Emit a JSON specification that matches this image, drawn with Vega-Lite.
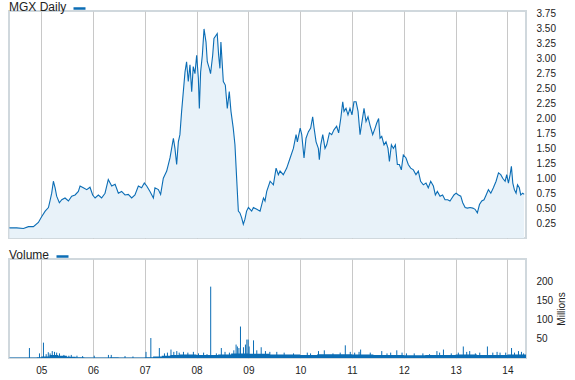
{
  "$schema": "https://vega.github.io/schema/vega-lite/v6.json",
  "padding": {"left": 6, "top": 0, "right": 0, "bottom": 0},
  "background": "white",
  "spacing": 21,
  "bounds": "flush",
  "config": {
    "font": "Liberation Sans",
    "view": {"stroke": "#d0d8dd", "strokeWidth": 2},
    "axis": {"labelFont": "Liberation Sans", "labelFontSize": 10, "labelColor": "#222222", "titleFont": "Liberation Sans"},
    "legend": {"titleFont": "Liberation Sans", "labelFont": "Liberation Sans"}
  },
  "resolve": {"scale": {"color": "independent"}, "legend": {"color": "independent"}},
  "datasets": {
    "price": [
      {"d": "2004-05-22", "p": 0.17}, {"d": "2004-07-12", "p": 0.17}, {"d": "2004-08-29", "p": 0.16},
      {"d": "2004-10-03", "p": 0.19}, {"d": "2004-11-07", "p": 0.19}, {"d": "2004-12-12", "p": 0.26},
      {"d": "2005-01-05", "p": 0.36}, {"d": "2005-01-29", "p": 0.45}, {"d": "2005-02-21", "p": 0.51},
      {"d": "2005-03-04", "p": 0.62}, {"d": "2005-03-16", "p": 0.75}, {"d": "2005-03-28", "p": 0.95},
      {"d": "2005-04-09", "p": 0.84}, {"d": "2005-04-20", "p": 0.70}, {"d": "2005-05-09", "p": 0.59},
      {"d": "2005-05-26", "p": 0.64}, {"d": "2005-06-18", "p": 0.67}, {"d": "2005-07-12", "p": 0.62},
      {"d": "2005-08-04", "p": 0.70}, {"d": "2005-08-28", "p": 0.72}, {"d": "2005-09-20", "p": 0.78},
      {"d": "2005-10-02", "p": 0.87}, {"d": "2005-10-25", "p": 0.84}, {"d": "2005-11-18", "p": 0.81},
      {"d": "2005-12-11", "p": 0.85}, {"d": "2005-12-30", "p": 0.72}, {"d": "2006-01-16", "p": 0.67},
      {"d": "2006-02-08", "p": 0.72}, {"d": "2006-03-03", "p": 0.67}, {"d": "2006-03-27", "p": 0.75},
      {"d": "2006-04-19", "p": 0.98}, {"d": "2006-05-13", "p": 0.87}, {"d": "2006-06-06", "p": 0.90},
      {"d": "2006-06-29", "p": 0.75}, {"d": "2006-07-22", "p": 0.78}, {"d": "2006-08-15", "p": 0.72},
      {"d": "2006-09-07", "p": 0.73}, {"d": "2006-10-01", "p": 0.67}, {"d": "2006-10-24", "p": 0.72},
      {"d": "2006-11-17", "p": 0.87}, {"d": "2006-12-10", "p": 0.84}, {"d": "2006-12-29", "p": 0.92},
      {"d": "2007-01-15", "p": 0.87}, {"d": "2007-02-07", "p": 0.78}, {"d": "2007-03-03", "p": 0.67},
      {"d": "2007-03-14", "p": 0.84}, {"d": "2007-04-07", "p": 0.81}, {"d": "2007-04-23", "p": 0.73},
      {"d": "2007-05-12", "p": 1.00}, {"d": "2007-06-05", "p": 1.12}, {"d": "2007-06-28", "p": 1.34},
      {"d": "2007-07-22", "p": 1.67}, {"d": "2007-08-02", "p": 1.50}, {"d": "2007-08-14", "p": 1.23},
      {"d": "2007-08-26", "p": 1.61}, {"d": "2007-09-06", "p": 1.73}, {"d": "2007-09-18", "p": 2.12},
      {"d": "2007-09-30", "p": 2.45}, {"d": "2007-10-12", "p": 2.78}, {"d": "2007-10-23", "p": 2.95},
      {"d": "2007-11-04", "p": 2.62}, {"d": "2007-11-16", "p": 2.90}, {"d": "2007-11-28", "p": 2.45},
      {"d": "2007-12-09", "p": 2.87}, {"d": "2007-12-21", "p": 2.75}, {"d": "2008-01-02", "p": 3.06},
      {"d": "2008-01-14", "p": 2.67}, {"d": "2008-01-21", "p": 2.17}, {"d": "2008-01-30", "p": 2.78},
      {"d": "2008-02-11", "p": 3.06}, {"d": "2008-02-23", "p": 3.50}, {"d": "2008-03-08", "p": 3.28},
      {"d": "2008-03-17", "p": 2.95}, {"d": "2008-03-31", "p": 2.84}, {"d": "2008-04-09", "p": 2.75},
      {"d": "2008-04-24", "p": 3.06}, {"d": "2008-05-03", "p": 3.34}, {"d": "2008-05-17", "p": 3.39},
      {"d": "2008-05-26", "p": 3.42}, {"d": "2008-06-05", "p": 3.06}, {"d": "2008-06-14", "p": 2.84},
      {"d": "2008-06-21", "p": 3.28}, {"d": "2008-07-08", "p": 2.62}, {"d": "2008-07-22", "p": 2.56},
      {"d": "2008-08-05", "p": 2.17}, {"d": "2008-08-19", "p": 2.45}, {"d": "2008-08-31", "p": 2.12},
      {"d": "2008-09-16", "p": 1.84}, {"d": "2008-09-28", "p": 1.56}, {"d": "2008-10-10", "p": 1.00},
      {"d": "2008-10-22", "p": 0.45}, {"d": "2008-11-02", "p": 0.42}, {"d": "2008-11-14", "p": 0.34},
      {"d": "2008-11-26", "p": 0.23}, {"d": "2008-12-07", "p": 0.31}, {"d": "2008-12-19", "p": 0.45},
      {"d": "2009-01-01", "p": 0.51}, {"d": "2009-01-13", "p": 0.48}, {"d": "2009-01-24", "p": 0.45},
      {"d": "2009-02-05", "p": 0.51}, {"d": "2009-03-01", "p": 0.48}, {"d": "2009-03-24", "p": 0.45},
      {"d": "2009-04-17", "p": 0.67}, {"d": "2009-04-28", "p": 0.62}, {"d": "2009-05-10", "p": 0.78},
      {"d": "2009-06-03", "p": 0.95}, {"d": "2009-06-26", "p": 0.89}, {"d": "2009-07-15", "p": 1.17},
      {"d": "2009-07-31", "p": 1.06}, {"d": "2009-08-12", "p": 1.12}, {"d": "2009-09-04", "p": 1.06},
      {"d": "2009-09-28", "p": 1.17}, {"d": "2009-10-22", "p": 1.34}, {"d": "2009-11-14", "p": 1.50},
      {"d": "2009-12-03", "p": 1.73}, {"d": "2009-12-12", "p": 1.61}, {"d": "2010-01-01", "p": 1.84},
      {"d": "2010-01-12", "p": 1.73}, {"d": "2010-01-28", "p": 1.34}, {"d": "2010-02-11", "p": 1.67},
      {"d": "2010-02-28", "p": 1.78}, {"d": "2010-03-16", "p": 1.84}, {"d": "2010-03-30", "p": 2.03},
      {"d": "2010-04-09", "p": 1.84}, {"d": "2010-04-23", "p": 1.61}, {"d": "2010-05-09", "p": 1.50},
      {"d": "2010-05-16", "p": 1.31}, {"d": "2010-05-26", "p": 1.56}, {"d": "2010-06-09", "p": 1.73},
      {"d": "2010-06-25", "p": 1.50}, {"d": "2010-07-07", "p": 1.56}, {"d": "2010-07-26", "p": 1.76},
      {"d": "2010-08-11", "p": 1.73}, {"d": "2010-08-27", "p": 1.81}, {"d": "2010-09-15", "p": 1.87},
      {"d": "2010-09-29", "p": 1.76}, {"d": "2010-10-14", "p": 2.00}, {"d": "2010-10-28", "p": 2.28},
      {"d": "2010-11-06", "p": 2.12}, {"d": "2010-11-20", "p": 2.17}, {"d": "2010-12-04", "p": 2.06},
      {"d": "2010-12-18", "p": 2.17}, {"d": "2011-01-01", "p": 2.06}, {"d": "2011-01-15", "p": 2.28},
      {"d": "2011-01-30", "p": 2.28}, {"d": "2011-02-13", "p": 2.12}, {"d": "2011-02-27", "p": 1.73},
      {"d": "2011-03-13", "p": 1.95}, {"d": "2011-03-27", "p": 2.17}, {"d": "2011-04-10", "p": 1.95},
      {"d": "2011-04-24", "p": 2.03}, {"d": "2011-05-08", "p": 1.89}, {"d": "2011-05-27", "p": 1.73},
      {"d": "2011-06-13", "p": 1.84}, {"d": "2011-06-24", "p": 1.92}, {"d": "2011-07-08", "p": 2.00},
      {"d": "2011-07-18", "p": 1.67}, {"d": "2011-07-30", "p": 1.70}, {"d": "2011-08-15", "p": 1.56},
      {"d": "2011-08-29", "p": 1.61}, {"d": "2011-09-12", "p": 1.50}, {"d": "2011-09-22", "p": 1.28},
      {"d": "2011-10-06", "p": 1.56}, {"d": "2011-10-20", "p": 1.50}, {"d": "2011-11-03", "p": 1.56},
      {"d": "2011-11-17", "p": 1.23}, {"d": "2011-12-01", "p": 1.23}, {"d": "2011-12-15", "p": 1.14},
      {"d": "2011-12-29", "p": 1.39}, {"d": "2012-01-17", "p": 1.34}, {"d": "2012-02-02", "p": 1.23},
      {"d": "2012-02-19", "p": 1.17}, {"d": "2012-03-09", "p": 1.14}, {"d": "2012-03-27", "p": 1.06},
      {"d": "2012-04-13", "p": 1.12}, {"d": "2012-04-29", "p": 0.95}, {"d": "2012-05-18", "p": 0.89},
      {"d": "2012-06-06", "p": 0.92}, {"d": "2012-06-22", "p": 0.84}, {"d": "2012-07-09", "p": 0.95},
      {"d": "2012-07-28", "p": 0.87}, {"d": "2012-08-11", "p": 0.72}, {"d": "2012-08-25", "p": 0.78},
      {"d": "2012-09-13", "p": 0.70}, {"d": "2012-10-01", "p": 0.72}, {"d": "2012-10-18", "p": 0.64},
      {"d": "2012-11-06", "p": 0.64}, {"d": "2012-11-22", "p": 0.62}, {"d": "2012-12-06", "p": 0.67},
      {"d": "2012-12-20", "p": 0.72}, {"d": "2013-01-04", "p": 0.75}, {"d": "2013-01-21", "p": 0.72},
      {"d": "2013-02-06", "p": 0.70}, {"d": "2013-02-20", "p": 0.59}, {"d": "2013-03-09", "p": 0.51},
      {"d": "2013-03-25", "p": 0.50}, {"d": "2013-04-13", "p": 0.51}, {"d": "2013-05-02", "p": 0.50},
      {"d": "2013-05-18", "p": 0.48}, {"d": "2013-06-03", "p": 0.42}, {"d": "2013-06-18", "p": 0.56},
      {"d": "2013-07-04", "p": 0.62}, {"d": "2013-07-20", "p": 0.64}, {"d": "2013-08-04", "p": 0.72},
      {"d": "2013-08-20", "p": 0.81}, {"d": "2013-09-06", "p": 0.75}, {"d": "2013-09-24", "p": 0.84},
      {"d": "2013-10-13", "p": 0.95}, {"d": "2013-10-30", "p": 1.09}, {"d": "2013-11-15", "p": 1.06},
      {"d": "2013-11-29", "p": 1.00}, {"d": "2013-12-16", "p": 0.95}, {"d": "2013-12-27", "p": 1.06},
      {"d": "2014-01-08", "p": 0.92}, {"d": "2014-01-20", "p": 1.06}, {"d": "2014-01-29", "p": 1.20},
      {"d": "2014-02-08", "p": 0.92}, {"d": "2014-02-19", "p": 0.81}, {"d": "2014-03-03", "p": 0.75},
      {"d": "2014-03-13", "p": 0.89}, {"d": "2014-03-26", "p": 0.84}, {"d": "2014-04-05", "p": 0.72},
      {"d": "2014-04-19", "p": 0.75}, {"d": "2014-04-29", "p": 0.73}
    ],
    "volBase": [
      {"d": "2004-05-22", "v": 1}, {"d": "2004-12-01", "v": 2}, {"d": "2005-01-01", "v": 4},
      {"d": "2005-03-01", "v": 8}, {"d": "2005-05-01", "v": 6}, {"d": "2005-07-01", "v": 3},
      {"d": "2005-09-01", "v": 2}, {"d": "2005-11-01", "v": 1}, {"d": "2006-05-01", "v": 2},
      {"d": "2006-07-01", "v": 1}, {"d": "2007-01-01", "v": 2}, {"d": "2007-03-01", "v": 4},
      {"d": "2007-05-01", "v": 6}, {"d": "2007-07-01", "v": 8}, {"d": "2007-09-01", "v": 9},
      {"d": "2008-01-01", "v": 8}, {"d": "2008-06-01", "v": 9}, {"d": "2008-09-01", "v": 12},
      {"d": "2009-01-01", "v": 11}, {"d": "2009-06-01", "v": 9}, {"d": "2010-01-01", "v": 8},
      {"d": "2010-05-01", "v": 10}, {"d": "2011-01-01", "v": 9}, {"d": "2011-06-01", "v": 8},
      {"d": "2012-01-01", "v": 7}, {"d": "2012-06-01", "v": 8}, {"d": "2013-01-01", "v": 9},
      {"d": "2013-06-01", "v": 8}, {"d": "2014-01-01", "v": 9}, {"d": "2014-05-12", "v": 9}
    ],
    "volSpikes": [
      {"d": "2004-10-10", "v": 26}, {"d": "2004-12-20", "v": 12}, {"d": "2005-01-17", "v": 40},
      {"d": "2005-02-05", "v": 10}, {"d": "2005-02-20", "v": 15}, {"d": "2005-03-05", "v": 12},
      {"d": "2005-03-20", "v": 18}, {"d": "2005-04-05", "v": 16}, {"d": "2005-04-20", "v": 14},
      {"d": "2005-05-10", "v": 12}, {"d": "2005-06-10", "v": 8}, {"d": "2005-07-15", "v": 6},
      {"d": "2005-08-01", "v": 8}, {"d": "2005-09-10", "v": 6}, {"d": "2005-10-20", "v": 5},
      {"d": "2006-01-10", "v": 6}, {"d": "2006-04-20", "v": 8}, {"d": "2006-05-10", "v": 8},
      {"d": "2006-08-15", "v": 5}, {"d": "2006-10-10", "v": 4}, {"d": "2007-01-10", "v": 16},
      {"d": "2007-02-13", "v": 52}, {"d": "2007-04-14", "v": 26}, {"d": "2007-05-20", "v": 12},
      {"d": "2007-06-10", "v": 14}, {"d": "2007-07-05", "v": 22}, {"d": "2007-07-25", "v": 16},
      {"d": "2007-08-15", "v": 18}, {"d": "2007-09-01", "v": 14}, {"d": "2007-10-01", "v": 16},
      {"d": "2007-11-01", "v": 14}, {"d": "2007-12-10", "v": 16}, {"d": "2008-01-15", "v": 12},
      {"d": "2008-02-20", "v": 14}, {"d": "2008-03-15", "v": 10}, {"d": "2008-04-10", "v": 186},
      {"d": "2008-05-20", "v": 12}, {"d": "2008-06-24", "v": 26}, {"d": "2008-07-20", "v": 16},
      {"d": "2008-08-20", "v": 14}, {"d": "2008-09-20", "v": 20}, {"d": "2008-10-06", "v": 35},
      {"d": "2008-10-15", "v": 30}, {"d": "2008-10-26", "v": 26}, {"d": "2008-11-06", "v": 82},
      {"d": "2008-11-27", "v": 28}, {"d": "2008-12-11", "v": 35}, {"d": "2008-12-21", "v": 48},
      {"d": "2008-12-30", "v": 48}, {"d": "2009-01-06", "v": 30}, {"d": "2009-02-06", "v": 46},
      {"d": "2009-03-01", "v": 20}, {"d": "2009-04-01", "v": 28}, {"d": "2009-05-01", "v": 18},
      {"d": "2009-06-01", "v": 16}, {"d": "2009-07-20", "v": 16}, {"d": "2009-09-10", "v": 14},
      {"d": "2009-11-15", "v": 12}, {"d": "2010-02-20", "v": 14}, {"d": "2010-03-15", "v": 12},
      {"d": "2010-05-10", "v": 18}, {"d": "2010-06-20", "v": 20}, {"d": "2010-08-20", "v": 12},
      {"d": "2010-10-10", "v": 14}, {"d": "2010-11-15", "v": 33}, {"d": "2010-12-20", "v": 16},
      {"d": "2011-01-20", "v": 14}, {"d": "2011-02-20", "v": 16}, {"d": "2011-03-03", "v": 22},
      {"d": "2011-05-10", "v": 14}, {"d": "2011-07-30", "v": 18}, {"d": "2011-09-05", "v": 12},
      {"d": "2011-10-01", "v": 14}, {"d": "2011-11-13", "v": 20}, {"d": "2011-12-20", "v": 14},
      {"d": "2012-01-20", "v": 12}, {"d": "2012-03-15", "v": 12}, {"d": "2012-05-15", "v": 12},
      {"d": "2012-07-01", "v": 10}, {"d": "2012-08-22", "v": 18}, {"d": "2012-09-10", "v": 14},
      {"d": "2012-10-07", "v": 22}, {"d": "2012-12-01", "v": 12}, {"d": "2013-01-20", "v": 14},
      {"d": "2013-02-24", "v": 30}, {"d": "2013-03-20", "v": 16}, {"d": "2013-04-10", "v": 18},
      {"d": "2013-05-20", "v": 12}, {"d": "2013-06-20", "v": 14}, {"d": "2013-08-13", "v": 30},
      {"d": "2013-09-20", "v": 14}, {"d": "2013-10-20", "v": 16}, {"d": "2013-11-10", "v": 14},
      {"d": "2013-12-20", "v": 14}, {"d": "2014-01-30", "v": 26}, {"d": "2014-02-20", "v": 14},
      {"d": "2014-03-20", "v": 18}, {"d": "2014-04-10", "v": 16}, {"d": "2014-04-25", "v": 12}
    ]
  },
  "vconcat": [
    {
      "width": 517,
      "height": 227,
      "data": {"name": "price"},
      "encoding": {
        "x": {
          "field": "d", "type": "temporal",
          "scale": {"type": "utc", "domain": ["2004-05-19", "2014-05-12"]},
          "axis": {"title": null, "labels": false, "ticks": false, "domain": false, "grid": true, "gridColor": "#c8c8c8", "tickCount": {"interval": "year", "step": 1}}
        },
        "y": {
          "field": "p", "type": "quantitative",
          "scale": {"domain": [0, 3.8], "nice": false, "zero": true},
          "axis": {"orient": "right", "title": null, "grid": false, "domain": false, "ticks": false, "labelPadding": 10, "format": ".2f",
                   "values": [0.25, 0.5, 0.75, 1, 1.25, 1.5, 1.75, 2, 2.25, 2.5, 2.75, 3, 3.25, 3.5, 3.75]}
        }
      },
      "layer": [
        {"mark": {"type": "area", "color": "#e8f2f9"}},
        {
          "mark": {"type": "line", "strokeWidth": 1.1},
          "encoding": {
            "color": {
              "datum": "MGX Daily",
              "scale": {"range": ["#0b6db5"]},
              "legend": {"orient": "none", "legendX": 0, "legendY": -10, "title": "MGX Daily", "titleOrient": "left",
                         "titleFontSize": 12, "titleFontWeight": "normal", "titleColor": "#222222", "titlePadding": 5,
                         "labelExpr": "''", "symbolType": "stroke", "symbolSize": 144, "symbolStrokeWidth": 2.5, "padding": 0}
            }
          }
        }
      ]
    },
    {
      "width": 517,
      "height": 99,
      "encoding": {
        "x": {
          "field": "d", "type": "temporal",
          "scale": {"type": "utc", "domain": ["2004-05-19", "2014-05-12"]},
          "axis": {"title": null, "ticks": false, "domain": false, "grid": true, "gridColor": "#c8c8c8", "format": "%y", "labelPadding": 7, "labelFontSize": 10,
                   "tickCount": {"interval": "year", "step": 1}}
        },
        "y": {
          "field": "v", "type": "quantitative",
          "scale": {"domain": [0, 258], "nice": false},
          "axis": {"orient": "right", "title": "Millions", "titleAngle": 270, "titleBaseline": "top", "titleFontSize": 10, "titleFontWeight": "normal", "titleColor": "#222222",
                   "titlePadding": 4, "grid": false, "domain": false, "ticks": false, "labelPadding": 10, "values": [50, 100, 150, 200]}
        }
      },
      "layer": [
        {"data": {"name": "volBase"}, "mark": {"type": "area", "interpolate": "step-after", "color": "#0b6db5"}},
        {
          "data": {"name": "volSpikes"},
          "mark": {"type": "rule", "strokeWidth": 1},
          "encoding": {
            "y2": {"datum": 0},
            "color": {
              "datum": "Volume",
              "scale": {"range": ["#0b6db5"]},
              "legend": {"orient": "none", "legendX": 0, "legendY": -10, "title": "Volume", "titleOrient": "left",
                         "titleFontSize": 12, "titleFontWeight": "normal", "titleColor": "#222222", "titlePadding": 5,
                         "labelExpr": "''", "symbolType": "stroke", "symbolSize": 144, "symbolStrokeWidth": 2.5, "padding": 0}
            }
          }
        }
      ]
    }
  ]
}
